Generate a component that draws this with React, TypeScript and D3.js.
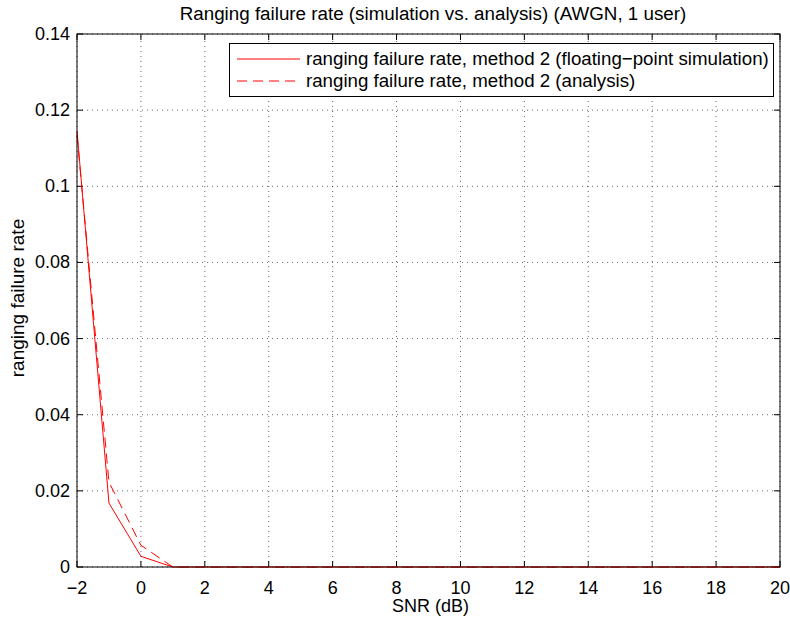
import React from "react";
import * as d3 from "d3";

const snr = [-2, -1, 0, 1, 2, 3, 4, 5, 6, 7, 8, 9, 10, 11, 12, 13, 14, 15, 16, 17, 18, 19, 20];
const simRate = [0.1145, 0.0168, 0.0028, 0, 0, 0, 0, 0, 0, 0, 0, 0, 0, 0, 0, 0, 0, 0, 0, 0, 0, 0, 0];
const anaRate = [0.1135, 0.0223, 0.0057, 0, 0, 0, 0, 0, 0, 0, 0, 0, 0, 0, 0, 0, 0, 0, 0, 0, 0, 0, 0];
const xTicks = [-2, 0, 2, 4, 6, 8, 10, 12, 14, 16, 18, 20];
const yTicks = [0, 0.02, 0.04, 0.06, 0.08, 0.1, 0.12, 0.14];
const legendLabels = [
  "ranging failure rate, method 2 (floating\u2212point simulation)",
  "ranging failure rate, method 2 (analysis)",
];
const title = "Ranging failure rate (simulation vs. analysis) (AWGN, 1 user)";

const W = 790, H = 624;
const L = 77, R = 780, T = 34, B = 567;
const FONT = "Liberation Sans, Arial, sans-serif";
const FS = 18;

export default function App() {
  const x = d3.scaleLinear().domain([-2, 20]).range([L, R]);
  const y = d3.scaleLinear().domain([0, 0.14]).range([B, T]);
  const line = d3.line<number>().x((_, i) => x(snr[i])).y((d) => y(d));
  const fmtY = (v: number) => (v === 0 ? "0" : String(+v.toFixed(2)));
  const fmtX = (v: number) => (v < 0 ? "\u2212" + Math.abs(v) : String(v));
  return (
    <svg width={W} height={H} style={{ position: "absolute", left: 0, top: 0, background: "#fff" }} fontFamily={FONT}>
      <rect x={0} y={0} width={W} height={H} fill="#fff" />
      {/* grid */}
      {xTicks.map((t) => (
        <line key={"gx" + t} x1={x(t)} x2={x(t)} y1={B} y2={T} stroke="#000" strokeWidth={0.6} strokeDasharray="1,4" />
      ))}
      {yTicks.map((t) => (
        <line key={"gy" + t} x1={L} x2={R} y1={y(t)} y2={y(t)} stroke="#000" strokeWidth={0.6} strokeDasharray="1,4" />
      ))}
      {/* ticks */}
      {xTicks.map((t) => (
        <g key={"tx" + t}>
          <line x1={x(t)} x2={x(t)} y1={B} y2={B - 6} stroke="#000" />
          <line x1={x(t)} x2={x(t)} y1={T} y2={T + 6} stroke="#000" />
          <text x={x(t)} y={B + 27} fontSize={FS} textAnchor="middle">{fmtX(t)}</text>
        </g>
      ))}
      {yTicks.map((t) => (
        <g key={"ty" + t}>
          <line x1={L} x2={L + 6} y1={y(t)} y2={y(t)} stroke="#000" />
          <line x1={R} x2={R - 6} y1={y(t)} y2={y(t)} stroke="#000" />
          <text x={L - 7} y={y(t) + 6} fontSize={FS} textAnchor="end">{fmtY(t)}</text>
        </g>
      ))}
      {/* data */}
      <path d={line(anaRate) || ""} fill="none" stroke="#ff0000" strokeWidth={1} strokeDasharray="10,6" />
      <path d={line(simRate) || ""} fill="none" stroke="#ff0000" strokeWidth={1} />
      {/* frame */}
      <rect x={L} y={T} width={R - L} height={B - T} fill="none" stroke="#000" strokeWidth={1} />
      {/* legend */}
      <rect x={229.5} y={43.5} width={544} height={53} fill="#fff" stroke="#000" />
      <line x1={237} x2={300} y1={59} y2={59} stroke="#ff0000" />
      <line x1={237} x2={300} y1={81} y2={81} stroke="#ff0000" strokeDasharray="10,6" />
      <text x={306} y={65} fontSize={18.7}>{legendLabels[0]}</text>
      <text x={306} y={87} fontSize={18.7}>{legendLabels[1]}</text>
      {/* title and labels */}
      <text x={433} y={20} fontSize={18.8} textAnchor="middle">{title}</text>
      <text x={(L + R) / 2 + 2} y={612} fontSize={FS} textAnchor="middle">SNR (dB)</text>
      <text transform={`translate(24, 298) rotate(-90)`} fontSize={19} textAnchor="middle">ranging failure rate</text>
    </svg>
  );
}
